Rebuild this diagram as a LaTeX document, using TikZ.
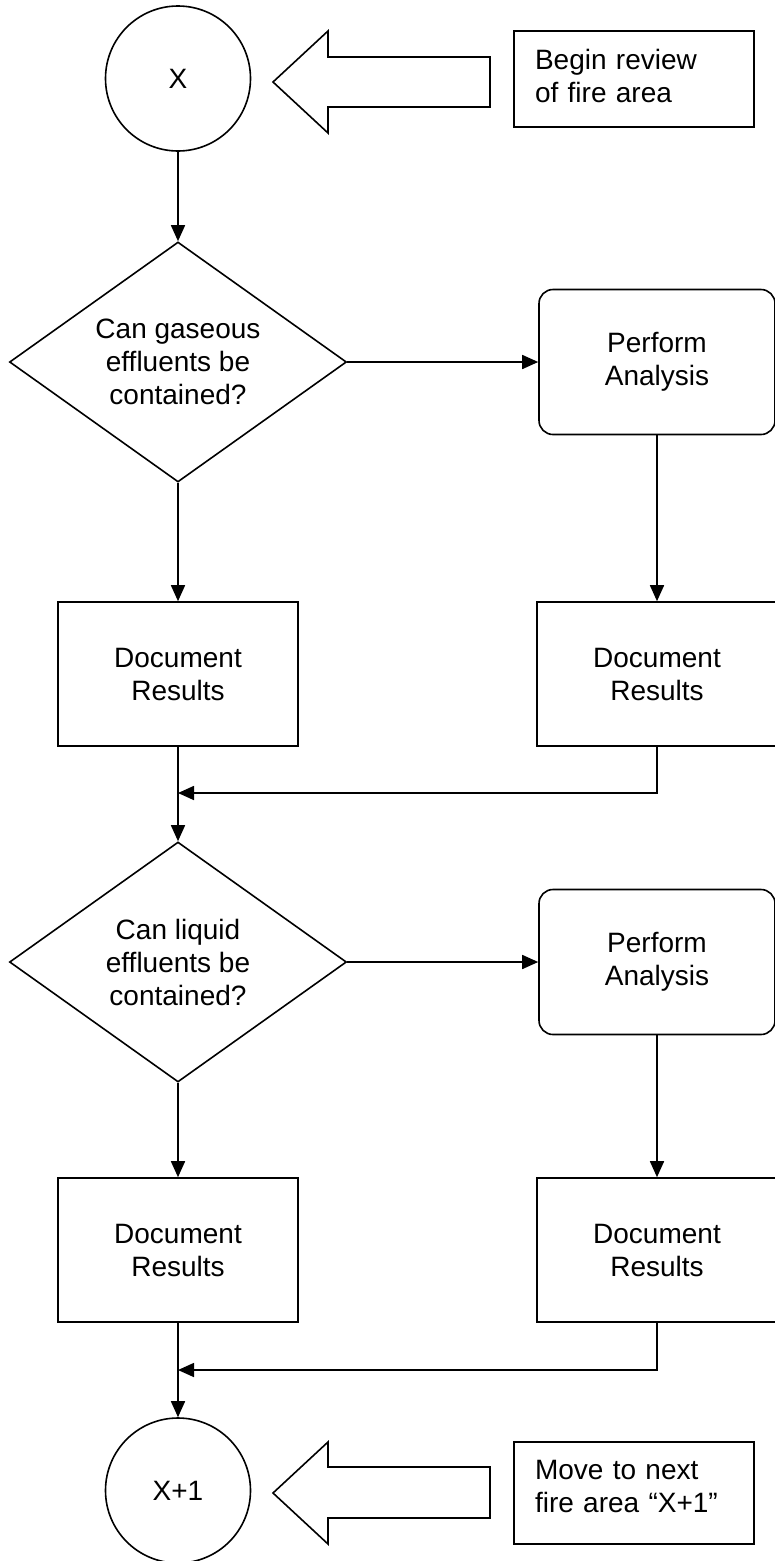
\documentclass[tikz,border=0pt]{standalone}
\usepackage{fontspec}
\setmainfont{Liberation Sans}
\usetikzlibrary{shapes.geometric, arrows.meta}

\begin{document}
\begin{tikzpicture}[x=1pt, y=-1pt,
  every node/.style={font=\fontsize{28}{33}\selectfont},
  lw/.style={line width=1.6pt},
  arr/.style={lw, -{Triangle[length=16pt,width=14pt]}},
  endpt/.style={circle, draw, lw, minimum size=145pt, inner sep=0pt},
  decision/.style={diamond, draw, lw, minimum width=337pt, minimum height=240pt,
    inner sep=0pt, shape aspect=1.4, align=center},
  task/.style={rectangle, rounded corners=14pt, draw, lw, minimum width=236pt,
    minimum height=145pt, align=center},
  record/.style={rectangle, draw, lw, minimum width=240pt, minimum height=144pt,
    align=center},
  note/.style={rectangle, draw, lw, minimum width=240pt, text width=198pt,
    inner xsep=21pt, inner ysep=0pt, align=left, text height=20pt},
  bigarrow/.style={draw, lw, line join=miter, fill=white}
]
\useasboundingbox (0,0) rectangle (775,1561);

% start of the review
\node[endpt] (x0) at (178,78.5) {X};
\node[note, minimum height=96pt, text depth=40pt] (begin) at (634,79)
  {Begin review\\of fire area};
\draw[bigarrow] (273,82) -- (328,31) -- (328,57) -- (490,57) -- (490,107)
  -- (328,107) -- (328,133) -- cycle;

% gaseous effluents
\node[decision] (d1) at (178,362) {Can gaseous\\effluents be\\contained?};
\node[task] (pa1) at (657,362) {Perform\\Analysis};
\node[record] (l1) at (178,674) {Document\\Results};
\node[record] (r1) at (657,674) {Document\\Results};
\coordinate (j1) at (178,793);

% liquid effluents
\node[decision] (d2) at (178,962) {Can liquid\\effluents be\\contained?};
\node[task] (pa2) at (657,962) {Perform\\Analysis};
\node[record] (l2) at (178,1250) {Document\\Results};
\node[record] (r2) at (657,1250) {Document\\Results};
\coordinate (j2) at (178,1370);

% next fire area
\node[endpt] (x1) at (178,1490.5) {X+1};
\node[note, minimum height=102pt, text depth=48pt] (move) at (634,1493)
  {Move to next\\fire area “X+1”};
\draw[bigarrow] (273,1493) -- (328,1442) -- (328,1467) -- (490,1467) -- (490,1518)
  -- (328,1518) -- (328,1544) -- cycle;

% connectors
\draw[arr] (x0.south) -- (d1.north);
\draw[arr] (d1.east) -- (pa1.west);
\draw[arr] (pa1.south) -- (r1.north);
\draw[arr] (d1.south) -- (l1.north);
\draw[arr] (l1.south) -- (d2.north);
\draw[arr] (r1.south) |- (j1);

\draw[arr] (d2.east) -- (pa2.west);
\draw[arr] (pa2.south) -- (r2.north);
\draw[arr] (d2.south) -- (l2.north);
\draw[arr] (l2.south) -- (x1.north);
\draw[arr] (r2.south) |- (j2);
\end{tikzpicture}
\end{document}
